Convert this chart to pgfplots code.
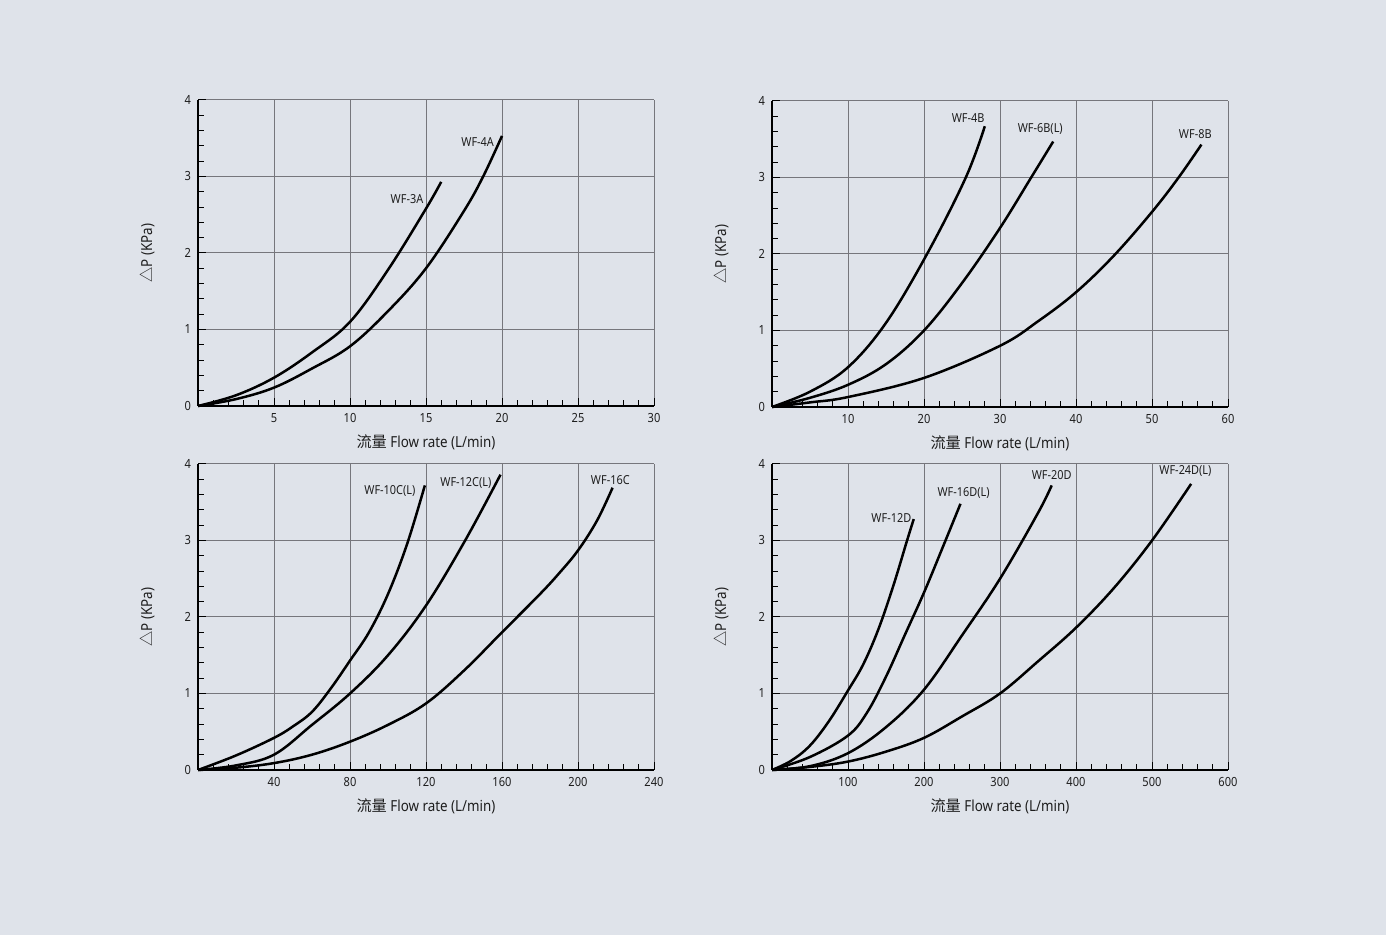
\documentclass[border=0pt]{standalone}
\usepackage{pgfplots}
\pgfplotsset{compat=1.18}
\usepackage{fontspec}
\setmainfont{Noto Sans}[FakeStretch=0.88]
\newfontfamily\cjk{Noto Sans CJK SC}
\definecolor{paper}{RGB}{223,227,234}
\definecolor{gridc}{RGB}{118,118,124}
\definecolor{inkc}{RGB}{30,30,30}

\tikzset{lbl/.style={font=\fontsize{6.2}{7}\selectfont, text=inkc}}
\pgfplotsset{
 wf/.style={black, line width=1.25pt, smooth, tension=0.6, mark=none},
 wfstyle/.style={
  scale only axis, width=228pt, height=153pt,
  xmin=0, ymin=0, ymax=4,
  axis x line=bottom, axis y line=left,
  axis line style={-, line width=1.2pt, black},
  ytick={0,1,2,3,4},
  minor x tick num=4, minor y tick num=4,
  grid=major, major grid style={gridc, line width=0.5pt},
  tick align=inside, major tick length=4pt, minor tick length=3pt,
  tick style={black, line width=0.5pt},
  ticklabel style={font=\fontsize{6.3}{7}\selectfont, text=inkc},
  /pgf/number format/assume math mode=true,
  xlabel={{\cjk 流量} Flow rate (L/min)},
  ylabel={{\cjk △}P (KPa)},
  label style={font=\fontsize{7.6}{9}\selectfont, text=inkc},
  xlabel style={at={(axis description cs:0.5,-0.118)}, anchor=center},
  ylabel style={at={(axis description cs:-0.112,0.5)}, anchor=center},
  clip=false,
 },
}

\begin{document}
\begin{tikzpicture}
\fill[paper] (0,0) rectangle (693pt,467.5pt);

% Top-left
\begin{axis}[wfstyle, at={(99pt,264.5pt)}, anchor=south west,
  xmax=30, xtick={0,5,...,30}, xticklabels={,5,10,15,20,25,30}]
\addplot[wf] coordinates {(0,0) (2.5,0.14) (5,0.37) (7.5,0.7) (10,1.1) (12.5,1.78) (15,2.58) (16,2.93)};
\addplot[wf] coordinates {(0,0) (2.5,0.09) (5,0.24) (7.5,0.49) (10,0.78) (12.5,1.24) (15,1.8) (17.5,2.55) (18.76,3.0) (20,3.53)};
\node[lbl] at (axis cs:13.75,2.71) {WF-3A};
\node[lbl] at (axis cs:18.4,3.45) {WF-4A};
\end{axis}

% Top-right
\begin{axis}[wfstyle, at={(386pt,264pt)}, anchor=south west,
  xmax=60, xtick={0,10,...,60}, xticklabels={,10,20,30,40,50,60}]
\addplot[wf] coordinates {(0,0) (5,0.2) (10,0.52) (15,1.1) (20.4,2.0) (25.5,3.0) (28,3.67)};
\addplot[wf] coordinates {(0,0) (5,0.12) (10,0.29) (15,0.56) (20,1.0) (25,1.62) (30,2.34) (34.1,3.0) (37,3.47)};
\addplot[wf] coordinates {(0,0) (5,0.06) (10,0.13) (20,0.38) (30,0.8) (35,1.12) (40,1.5) (45,1.98) (50,2.55) (53.5,3.0) (56.5,3.43)};
\node[lbl] at (axis cs:25.8,3.78) {WF-4B};
\node[lbl] at (axis cs:35.3,3.63) {WF-6B(L)};
\node[lbl] at (axis cs:55.7,3.57) {WF-8B};
\end{axis}

% Bottom-left
\begin{axis}[wfstyle, at={(99pt,82.5pt)}, anchor=south west,
  xmax=240, xtick={0,40,...,240}, xticklabels={,40,80,120,160,200,240}]
\addplot[wf] coordinates {(0,0) (20,0.19) (40,0.42) (50,0.57) (60,0.76) (70,1.07) (80,1.43) (90,1.8) (100,2.3) (110,2.95) (119.4,3.72)};
\addplot[wf] coordinates {(0,0) (20,0.06) (40,0.2) (60,0.59) (80,1.0) (100,1.5) (120,2.15) (140.6,3.0) (159.2,3.86)};
\addplot[wf] coordinates {(0,0) (20,0.03) (40,0.09) (60,0.2) (80,0.37) (100,0.59) (120,0.87) (140,1.3) (160,1.8) (180,2.3) (190,2.57) (200,2.87) (210,3.26) (218.2,3.69)};
\node[lbl] at (axis cs:101,3.65) {WF-10C(L)};
\node[lbl] at (axis cs:141,3.75) {WF-12C(L)};
\node[lbl] at (axis cs:217,3.79) {WF-16C};
\end{axis}

% Bottom-right
\begin{axis}[wfstyle, at={(386pt,82.5pt)}, anchor=south west,
  xmax=600, xtick={0,100,...,600}, xticklabels={,100,200,300,400,500,600}]
\addplot[wf] coordinates {(0,0) (25,0.12) (50,0.32) (75,0.64) (100,1.04) (120,1.38) (140,1.84) (160,2.42) (177.7,3.0) (186.5,3.28)};
\addplot[wf] coordinates {(0,0) (50,0.17) (100,0.45) (125,0.75) (150,1.22) (175,1.77) (200,2.32) (225,2.92) (248,3.48)};
\addplot[wf] coordinates {(0,0) (50,0.05) (100,0.22) (150,0.56) (200,1.05) (250,1.76) (300,2.5) (350,3.36) (368,3.72)};
\addplot[wf] coordinates {(0,0) (50,0.04) (100,0.11) (150,0.24) (200,0.42) (250,0.7) (300,1.0) (350,1.42) (400,1.86) (450,2.38) (500,3.0) (551.5,3.74)};
\node[lbl] at (axis cs:157,3.3) {WF-12D};
\node[lbl] at (axis cs:252,3.62) {WF-16D(L)};
\node[lbl] at (axis cs:368,3.86) {WF-20D};
\node[lbl] at (axis cs:544,3.91) {WF-24D(L)};
\end{axis}
\end{tikzpicture}
\end{document}
